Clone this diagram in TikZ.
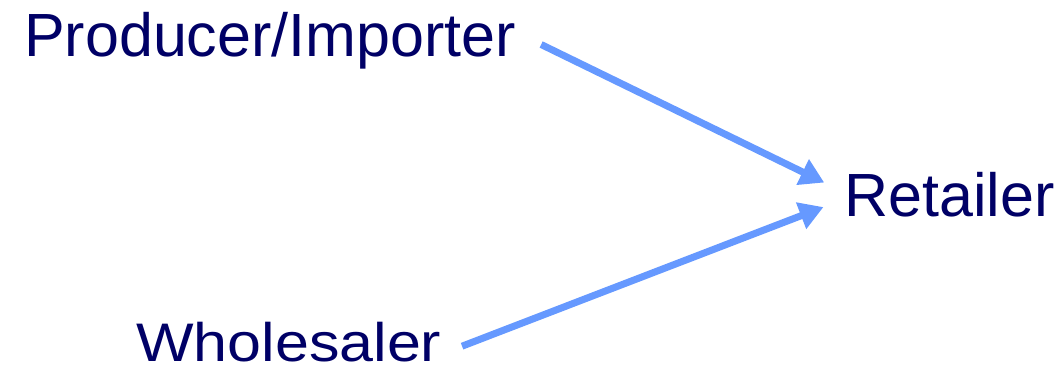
\documentclass[tikz,border=0pt]{standalone}
\usepackage{fontspec}
\setmainfont{Liberation Sans}
\usetikzlibrary{arrows.meta}
\definecolor{navy}{HTML}{000066}
\definecolor{flowblue}{HTML}{6699FF}
\tikzstyle{party} = [text=navy, font=\fontsize{61}{70}\selectfont, inner sep=0pt, anchor=base west]
\tikzstyle{flow} = [draw=flowblue, line width=7pt, -{Triangle[length=24pt,width=27pt]}]

\begin{document}
\begin{tikzpicture}[x=1pt, y=-1pt]
\useasboundingbox (0,0) rectangle (1059,371);
\node[party] (producer) at (24,57) {Producer/Importer};
\node[party] (wholesaler) at (136,361) {\scalebox{1}[0.89]{Wholesaler}};
\node[party] (retailer) at (844,217) {Retailer};
\draw[flow, shorten <=28pt, shorten >=22pt] ([yshift=9pt]producer.east) -- ([yshift=3pt]retailer.west);
\draw[flow, shorten <=22pt, shorten >=22pt] ([yshift=-12.5pt]wholesaler.east) -- ([yshift=-4pt]retailer.west);
\end{tikzpicture}
\end{document}
